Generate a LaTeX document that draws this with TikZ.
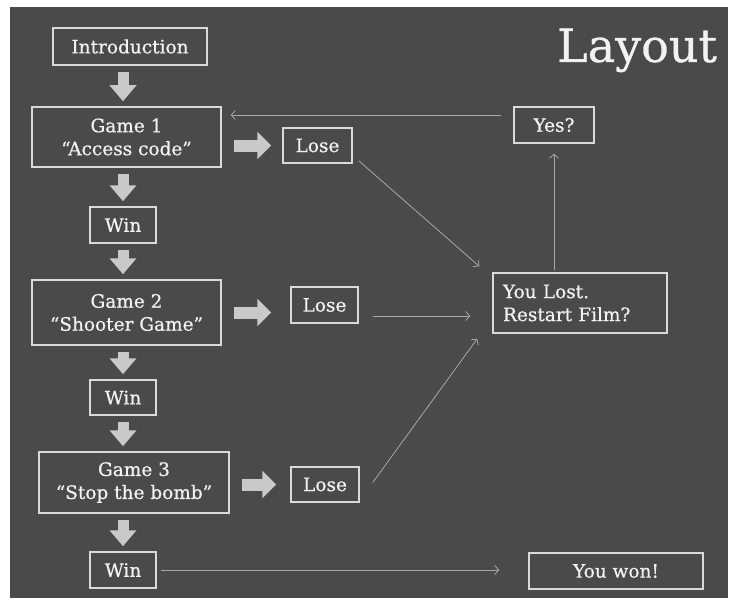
\documentclass[tikz,border=0pt]{standalone}
\usepackage{fontspec}
\setmainfont[FakeBold=0.6]{DejaVu Serif}
\usetikzlibrary{arrows.meta}
\definecolor{slide}{HTML}{4A4A4A}
\definecolor{frame}{HTML}{DADADA}
\definecolor{ink}{HTML}{F2F2F2}
\definecolor{wire}{HTML}{A8A8A8}
\definecolor{fat}{HTML}{C9C9C9}
\begin{document}
\begin{tikzpicture}[x=1pt,y=-1pt,
    box/.style={draw=frame,line width=1.5pt,text=ink,align=center,inner sep=0pt,
      font=\fontsize{18.5pt}{23pt}\selectfont},
    fatdown/.style={fat,line width=11pt,-{Triangle[length=16pt,width=26pt]},shorten <=6pt,shorten >=5pt},
    fatright/.style={fat,line width=12pt,-{Triangle[length=14pt,width=27pt]},shorten <=12pt,shorten >=11pt},
    wirearrow/.style={wire,line width=0.8pt,-{Straight Barb[length=4pt,width=9pt]}}]
        \useasboundingbox (0,0) rectangle (730,599);
        \fill[slide] (10,7) rectangle (728,598);
        \node[text=ink,font=\fontsize{46pt}{50pt}\selectfont,anchor=base west,inner sep=0pt] (title) at (557,62) {Layout};
        \node[box,minimum width=154pt,minimum height=37pt] (intro) at (130,46.5) {Introduction};
        \node[box,minimum width=189pt,minimum height=60pt] (g1) at (126.5,137) {Game 1\\“Access code”};
        \node[box,minimum width=69pt,minimum height=35pt] (lose1) at (317.5,145.5) {Lose};
        \node[box,minimum width=66pt,minimum height=36pt] (win1) at (123,225) {Win};
        \node[box,minimum width=189pt,minimum height=65pt] (g2) at (126.5,312.5) {Game 2\\“Shooter Game”};
        \node[box,minimum width=67pt,minimum height=36pt] (lose2) at (324.5,305) {Lose};
        \node[box,minimum width=66pt,minimum height=35pt] (win2) at (123,397.5) {Win};
        \node[box,minimum width=190pt,minimum height=61pt] (g3) at (134,482.5) {Game 3\\“Stop the bomb”};
        \node[box,minimum width=68pt,minimum height=35pt] (lose3) at (325,484.5) {Lose};
        \node[box,minimum width=66pt,minimum height=36pt] (win3) at (123,570) {Win};
        \node[box,minimum width=80pt,minimum height=36pt] (yes) at (554,125) {Yes?};
        \node[box,minimum height=60pt,text width=154pt,inner xsep=10pt,align=left] (lost) at (580,303) {You Lost.\\Restart Film?};
        \node[box,minimum width=174pt,minimum height=36pt] (won) at (616,571) {You won!};
        \draw[fatdown] (intro.south -| win1) -- (g1.north -| win1);
        \draw[fatdown] (g1.south -| win1) -- (win1.north);
        \draw[fatdown] (win1.south) -- (g2.north -| win1);
        \draw[fatdown] (g2.south -| win1) -- (win2.north);
        \draw[fatdown] (win2.south) -- (g3.north -| win2);
        \draw[fatdown] (g3.south -| win3) -- (win3.north);
        \draw[fatright] (g1.east |- lose1) -- (lose1.west);
        \draw[fatright,shorten >=19pt] (g2.east) -- (g2.east -| lose2.west);
        \draw[fatright,shorten >=14pt] (g3.east |- lose3) -- (lose3.west);
        \coordinate (back) at ([yshift=10pt]yes.west);
        \draw[wirearrow,shorten <=12pt,shorten >=9pt] (back) -- (back -| g1.east);
        \draw[wirearrow,shorten <=2pt,shorten >=10pt] (lost.north -| yes) -- (yes.south);
        \draw[wirearrow] ([shift={(6pt,3pt)}]lose1.south east) -- ([shift={(-13pt,6pt)}]lost.north west);
        \draw[wirearrow,shorten <=14pt,shorten >=22pt] ([yshift=-11pt]lose2.east) -- ([yshift=-11pt]lose2.east -| lost.west);
        \draw[wirearrow] ([shift={(13pt,2pt)}]lose3.east) -- ([shift={(-15pt,-5pt)}]lost.south west);
        \draw[wirearrow,shorten <=4pt,shorten >=29pt] (win3.east) -- (win3.east -| won.west);
    \end{tikzpicture}
\end{document}
